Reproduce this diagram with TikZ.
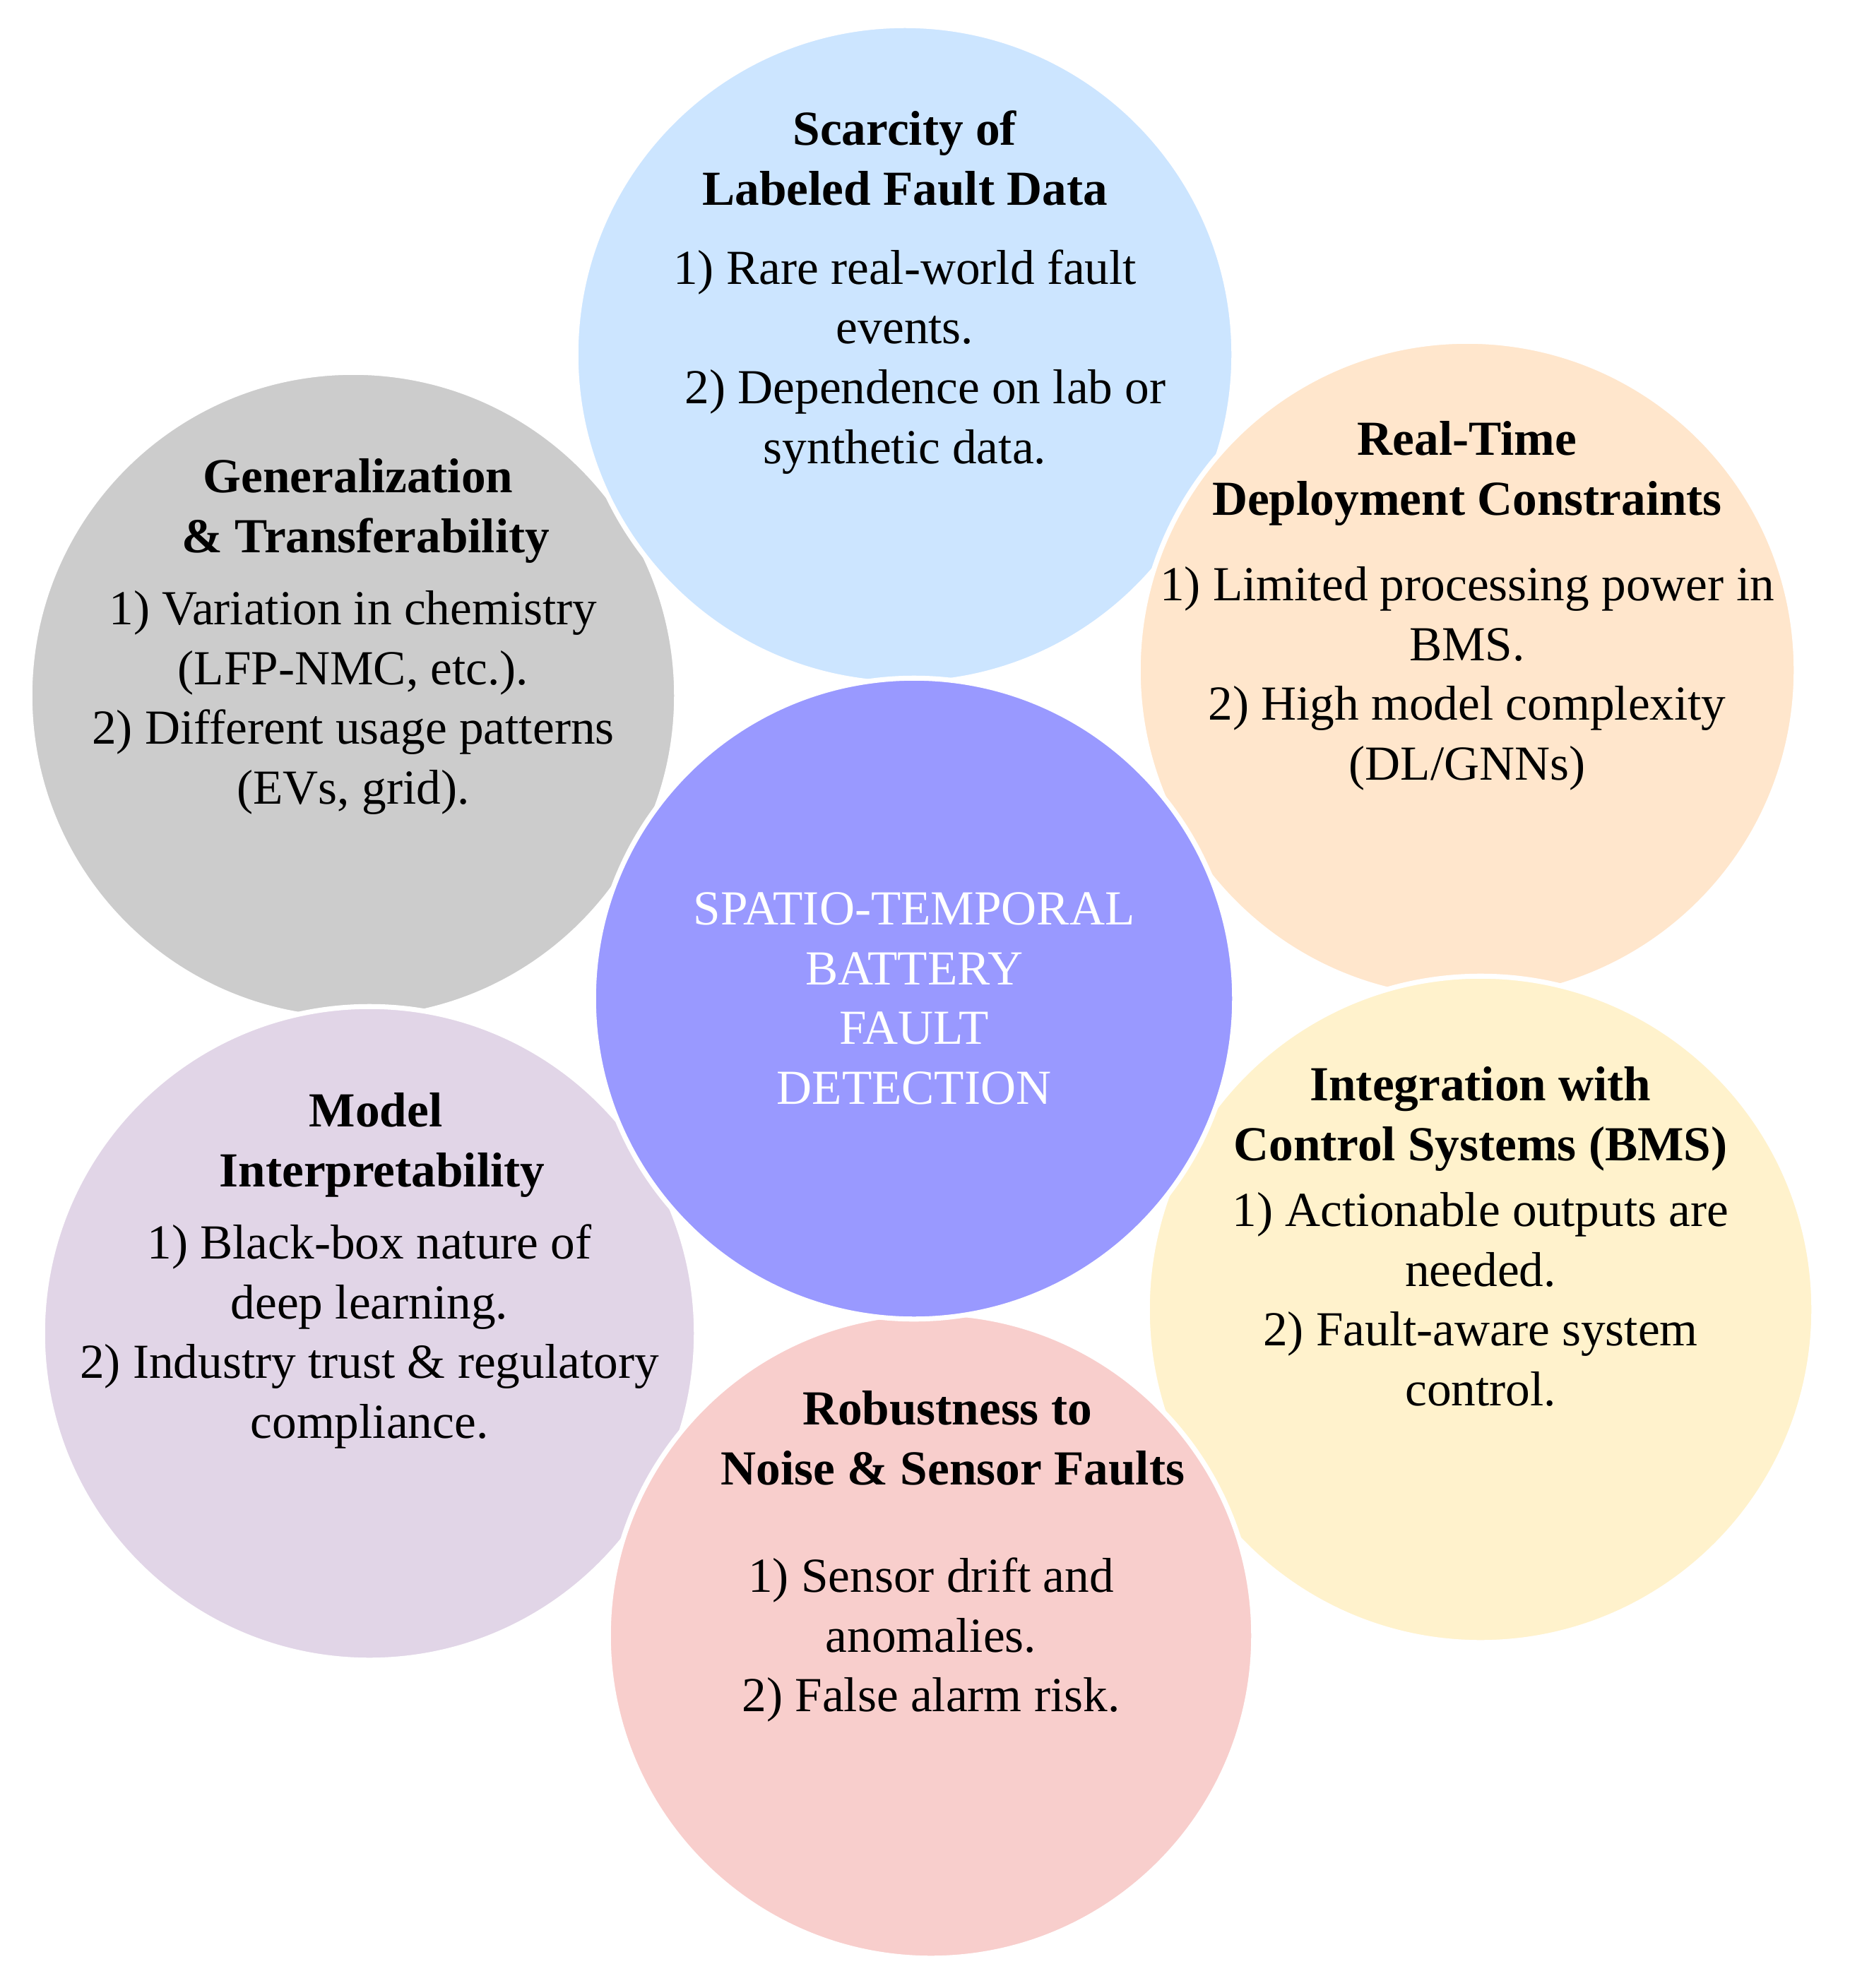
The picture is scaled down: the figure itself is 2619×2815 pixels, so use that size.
\documentclass[tikz,border=0pt]{standalone}
\usepackage{fontspec}
\setmainfont{Liberation Serif}
\definecolor{scarblue}{HTML}{CCE5FF}
\definecolor{timepeach}{HTML}{FFE6CC}
\definecolor{integyellow}{HTML}{FFF2CC}
\definecolor{robustpink}{HTML}{F8CECC}
\definecolor{modellilac}{HTML}{E1D5E7}
\definecolor{generalgray}{HTML}{CCCCCC}
\definecolor{corepurple}{HTML}{9999FF}
\tikzset{
    bubble/.style={circle, draw=white, line width=2pt, inner sep=0pt},
    bubbletext/.style={align=center, inner sep=0pt, anchor=north,
        font=\fontsize{19.7}{24.1}\selectfont},
}
\begin{document}
\begin{tikzpicture}[x=0.01cm, y=-0.01cm]
    \useasboundingbox (0,0) rectangle (2619,2815);
    % outer challenges
    \node [bubble, fill=generalgray, minimum size=9.15cm] (general) at (500,985) {};
    \node [bubble, fill=modellilac, minimum size=9.25cm] (model) at (523,1888) {};
    \node [bubble, fill=scarblue, minimum size=9.31cm] (scarcity) at (1281,502) {};
    \node [bubble, fill=timepeach, minimum size=9.31cm] (realtime) at (2077,949) {};
    \node [bubble, fill=integyellow, minimum size=9.43cm] (integration) at (2096,1854) {};
    \node [bubble, fill=robustpink, minimum size=9.13cm] (robust) at (1318,2316) {};
    % core
    \node [bubble, fill=corepurple, minimum size=9.07cm] (core) at (1294,1414) {};

    \node [bubbletext] (scarcitytext) at (1281,156) {\textbf{Scarcity of}\\\textbf{Labeled Fault Data}\\[0.27cm]1) Rare real-world fault\\events.\\\hspace*{0.58cm}2) Dependence on lab or\\synthetic data.};
    \node [bubbletext] (generaltext) at (500,649) {\hspace*{0.14cm}\textbf{Generalization}\\\hspace*{0.36cm}\textbf{\& Transferability}\\[0.17cm]1) Variation in chemistry\\(LFP-NMC, etc.).\\2) Different usage patterns\\(EVs, grid).};
    \node [bubbletext] (realtimetext) at (2077,596) {\textbf{Real-Time}\\\textbf{Deployment Constraints}\\[0.36cm]1) Limited processing power in\\BMS.\\2) High model complexity\\(DL/GNNs)};
    \node [bubbletext] (integrationtext) at (2096,1510) {\textbf{Integration with}\\\textbf{Control Systems (BMS)}\\[0.08cm]1) Actionable outputs are\\needed.\\2) Fault-aware system\\control.};
    \node [bubbletext] (modeltext) at (523,1547) {\hspace*{0.18cm}\textbf{Model}\\\hspace*{0.36cm}\textbf{Interpretability}\\[0.17cm]1) Black-box nature of\\deep learning.\\2) Industry trust \& regulatory\\compliance.};
    \node [bubbletext] (robusttext) at (1318,1969) {\hspace*{0.46cm}\textbf{Robustness to}\\\hspace*{0.62cm}\textbf{Noise \& Sensor Faults}\\[0.67cm]1) Sensor drift and\\anomalies.\\2) False alarm risk.};
    \node [bubbletext, anchor=center, text=white] (coretext) at (core.center) {SPATIO-TEMPORAL\\BATTERY\\FAULT\\DETECTION};
\end{tikzpicture}
\end{document}
